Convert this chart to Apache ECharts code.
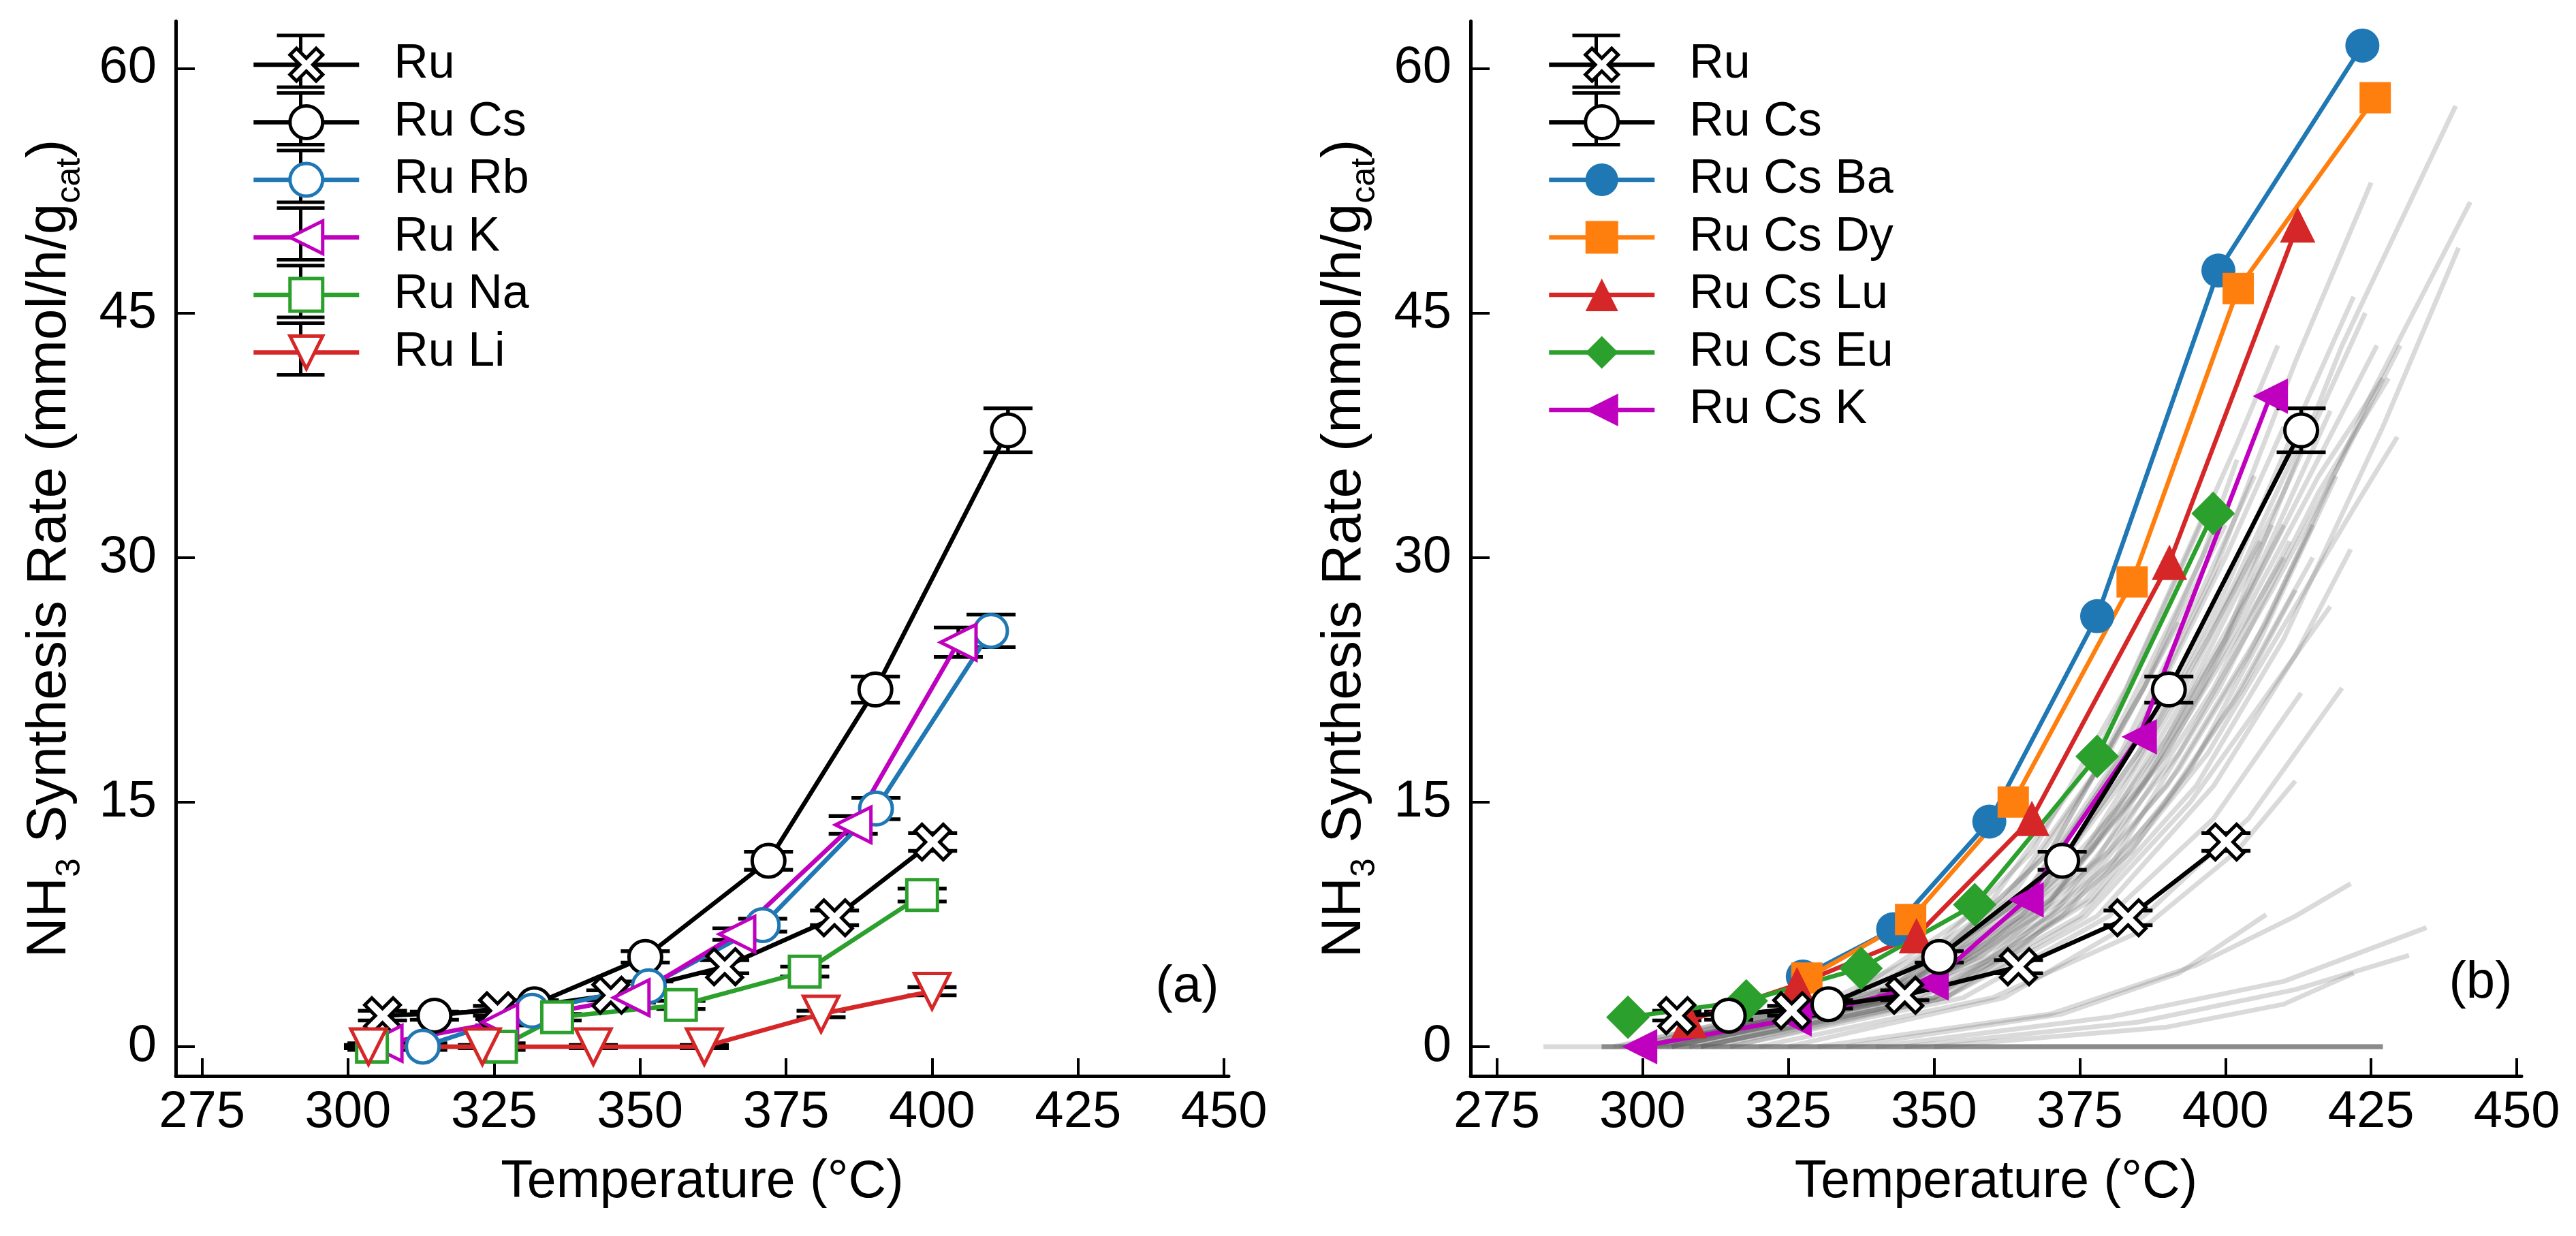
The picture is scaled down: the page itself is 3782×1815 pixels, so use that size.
<!DOCTYPE html>
<html><head><meta charset="utf-8">
<script src="https://cdn.jsdelivr.net/npm/echarts@6/dist/echarts.min.js"></script>
<style>html,body{margin:0;padding:0;background:#fff}#c{width:3782px;height:1815px}</style>
</head><body><div id="c"></div>
<script>
// ---------- tick labels ----------
const xTicks = [275, 300, 325, 350, 375, 400, 425, 450];
const yTicks = [0, 15, 30, 45, 60];

// ---------- panel (a) ----------
const ruT   = [305.9, 325.6, 345.0, 364.5, 383.3, 400.1];
const ruV   = [1.9, 2.2, 3.15, 4.9, 7.9, 12.55];
const ruErr = [0.3, 0.3, 0.3, 0.4, 0.45, 0.55];
const ruCsT   = [314.8, 331.9, 350.9, 372.0, 390.3, 413.0];
const ruCsV   = [1.9, 2.6, 5.5, 11.4, 21.9, 37.8];
const ruCsErr = [0.25, 0.25, 0.35, 0.55, 0.8, 1.35];
const ruRbT   = [312.8, 331.5, 351.5, 371.0, 390.4, 410.1];
const ruRbV   = [0.0, 2.2, 3.7, 7.45, 14.6, 25.5];
const ruRbErr = [0.2, 0.2, 0.3, 0.4, 0.65, 1.0];
const ruKT    = [306.2, 326.0, 348.5, 366.6, 386.5, 404.5];
const ruKV    = [0.2, 1.5, 3.0, 6.9, 13.6, 24.8];
const ruKErr  = [0.2, 0.2, 0.3, 0.35, 0.55, 0.9];
const ruNaT   = [304.1, 326.2, 335.8, 357.0, 378.2, 398.3];
const ruNaV   = [0.0, 0.0, 1.8, 2.55, 4.6, 9.3];
const ruNaErr = [0.2, 0.2, 0.2, 0.25, 0.3, 0.4];
const ruLiT   = [303.5, 323.0, 342.0, 361.0, 381.0, 400.0];
const ruLiV   = [0.0, 0.0, 0.0, 0.0, 2.0, 3.4];
const ruLiErr = [0.1, 0.1, 0.1, 0.1, 0.2, 0.25];

// ---------- panel (b) ----------
const baT = [327.5, 343.0, 359.5, 378.0, 398.8, 423.5];
const baV = [4.3, 7.2, 13.8, 26.4, 47.6, 61.4];
const dyT = [328.2, 346.0, 363.6, 384.0, 402.2, 425.7];
const dyV = [4.2, 7.8, 15.0, 28.5, 46.5, 58.2];
const luT = [308.0, 326.5, 347.0, 366.8, 390.4, 412.4];
const luV = [1.6, 3.8, 6.8, 14.0, 29.7, 50.4];
const euT = [297.5, 317.8, 337.5, 357.0, 378.0, 397.9];
const euV = [1.8, 2.8, 4.8, 8.7, 17.8, 32.7];
const csKT = [299.5, 326.0, 349.5, 365.8, 385.2, 407.7];
const csKV = [0.0, 1.7, 3.9, 9.0, 19.0, 39.9];

// faint grey background curves in panel (b), [T, rate] pairs
const grayLines = [
  [[300,0],[340,3],[365,8],[385,16],[400,25],[420,43],[439.5,57.7]],
  [[305,0],[345,3],[370,8],[390,16],[407,26],[425,40],[442,51.8]],
  [[310,0],[350,3],[375,8],[395,16],[410,25],[427,38],[440,49]],
  [[300,0],[340,3],[365,9],[383,18],[398,29],[412,42],[425,53]],
  [[300,0],[342,3],[367,9],[385,18],[400,28],[412,38],[422,46]],
  [[305,0],[345,3],[372,9],[392,18],[408,28],[420,36],[430,43]],
  [[310,0],[350,3],[377,9],[397,18],[412,27],[422,33],[429.5,37.4]],
  [[300,0],[345,3],[370,9],[390,18],[404,27],[416,35],[427,41]],
  [[295,0],[335,3],[360,9],[378,18],[392,29],[402,37],[409,43]],
  [[310,0],[352,3],[378,8],[398,16],[412,24],[421.5,30.5]],
  [[315,0],[355,3],[380,8],[398,14],[413,21.7]],
  [[320,0],[360,3],[385,7],[402,12],[412,16.3]],
  [[330,0],[370,2],[395,5],[412,8],[421.5,10]],
  [[335,0],[372,2],[392,4.5],[407,8.1]],
  [[340,0],[380,1.8],[410,4],[434.5,7.3]],
  [[345,0],[385,1.5],[412,3.5],[431.5,5.6]],
  [[350,0],[390,1.2],[410,2.6],[422,4.5]],
  [[298,0],[340,3.5],[362,9],[378,17],[392,27],[400,33]],
  [[300,0],[342,3.5],[365,9],[382,18],[396,28],[405,35]],
  [[305,0],[345,3],[368,8],[386,16],[400,25],[410,32]],
  [[300,0],[340,3],[363,9],[380,18],[392,26]],
  [[310,0],[348,3],[372,8],[390,15],[403,22],[412,28]],
  [[305,0],[345,3],[370,9],[388,17],[400,24],[410,30]],
  [[315,0],[352,3],[376,8],[394,15],[408,22],[418,27]],
  [[300,0],[343,3],[368,10],[386,20],[400,30],[410,38]],
  [[310,0],[350,3],[374,9],[392,17],[404,24],[415,32]],
  [[325,0],[362,3],[386,8],[404,14],[420,22]],
  [[305,0],[346,4],[370,12],[386,22],[396,30],[402,36]],
  [[302,0],[344,3.5],[369,10],[387,19],[401,28],[414,38]],
  [[308,0],[348,3.5],[372,10],[390,19],[404,28],[418,39]],
  [[303,0],[343,3],[367,9],[384,17],[397,25],[406,31]],
  [[312,0],[352,3],[376,9],[394,17],[406,25],[419,35]],
  [[300,0],[338,3],[355,5.5],[375,11.5],[393,22],[410,34],[424,45]],
  [[302,0],[341,3],[358,5.5],[378,11.5],[396,22],[413,34],[426,43]],
  [[305,0],[344,3],[361,5.5],[381,11.5],[399,22],[416,34],[428,41]],
  [[300,0],[340,3],[357,5.5],[377,12],[394,22],[408,32]],
  [[304,0],[343,3],[360,5.6],[380,12],[398,22],[411,31]],
  [[308,0],[347,3],[364,5.8],[384,12],[401,21],[415,30]],
  [[298,0],[335,3],[352,6],[370,12],[386,22],[400,32]],
  [[296,0],[333,3],[350,6],[367,12],[383,22],[398,34]],
  [[283,0],[427,0]],
  [[293,0],[427,0]],
  [[293,0],[427,0]],
  [[293,0],[427,0]],
  [[293,0],[427,0]]
];

// ---------- styling ----------
const FONT = '"Liberation Sans", Arial, sans-serif';
const LW = 6.5;
const BW = 5;
const XSYM = 'path://M2,0L5,3L8,0L10,2L7,5L10,8L8,10L5,7L2,10L0,8L3,5L0,2Z';
const C = {blue:'#1f77b4', orange:'#ff7f0e', green:'#2ca02c', red:'#d62728', mag:'#bf00bf', k:'#000'};

const G = [
  {left: 258, top: 31, width: 1546, height: 1549},
  {left: 2159, top: 31, width: 1543, height: 1549}
];
// legend rows: first row centre at 90 px, pitch 84.5 px; text box (70 px) sets the row height
const LEG = {top: 55, itemH: 60, textH: 70, pitch: 84.5, itemW: 155, lefts: [364, 2266]};

function pts(t, v) { return t.map((x, i) => [x, v[i]]); }

function lineS(name, gi, t, v, color, symbol, size, rot, hollow, edge) {
  return {
    type: 'line', name, xAxisIndex: gi, yAxisIndex: gi, data: pts(t, v),
    symbol, symbolSize: size, symbolRotate: rot, showSymbol: true,
    lineStyle: {color, width: LW},
    itemStyle: {color: hollow ? '#fff' : color, borderColor: edge || color, borderWidth: hollow ? BW : 0},
    emphasis: {disabled: true}, silent: true, animation: false, z: 3
  };
}

function errS(gi, t, v, e) {
  return {
    type: 'custom', xAxisIndex: gi, yAxisIndex: gi, silent: true, animation: false, z: 3,
    data: t.map((x, i) => [x, v[i], e[i]]),
    encode: {x: 0, y: 1},
    renderItem(params, api) {
      const x = api.value(0), y = api.value(1), er = api.value(2);
      const hi = api.coord([x, y + er]), lo = api.coord([x, y - er]);
      const hw = 36;
      const st = {stroke: '#000', lineWidth: 5.5};
      return {type: 'group', children: [
        {type: 'line', shape: {x1: hi[0], y1: hi[1], x2: lo[0], y2: lo[1]}, style: st},
        {type: 'line', shape: {x1: hi[0] - hw, y1: hi[1], x2: hi[0] + hw, y2: hi[1]}, style: st},
        {type: 'line', shape: {x1: lo[0] - hw, y1: lo[1], x2: lo[0] + hw, y2: lo[1]}, style: st}
      ]};
    }
  };
}

function xAx(gi) {
  return {
    type: 'value', gridIndex: gi, min: 270.5, max: 450.8,
    name: 'Temperature (°C)', nameLocation: 'middle', nameGap: 118,
    nameTextStyle: {fontFamily: FONT, fontSize: 77, color: '#000'},
    axisLine: {show: true, onZero: false, lineStyle: {color: '#000', width: 5}},
    axisTick: {show: true, inside: true, length: 26, lineStyle: {color: '#000', width: 4}, customValues: xTicks},
    axisLabel: {fontFamily: FONT, fontSize: 76, color: '#000', margin: 16, customValues: xTicks},
    splitLine: {show: false}
  };
}
function yAx(gi) {
  return {
    type: 'value', gridIndex: gi, min: -1.8, max: 62.9,
    name: '{m|NH}{s|3}{m| Synthesis Rate (mmol/h/g}{s|cat}{m|)}',
    nameLocation: 'middle', nameGap: 140, nameRotate: 90,
    nameTextStyle: {rich: {
      m: {fontFamily: FONT, fontSize: 82, color: '#000', lineHeight: 90},
      s: {fontFamily: FONT, fontSize: 50, color: '#000', lineHeight: 50, padding: [60, 0, 0, 0]}
    }},
    axisLine: {show: true, onZero: false, lineStyle: {color: '#000', width: 5}},
    axisTick: {show: true, inside: true, length: 28, lineStyle: {color: '#000', width: 4}, customValues: yTicks},
    axisLabel: {fontFamily: FONT, fontSize: 76, color: '#000', margin: 28, customValues: yTicks},
    splitLine: {show: false}
  };
}

const series = [];
// panel (a)
series.push(errS(0, ruT, ruV, ruErr));
series.push(lineS('Ru', 0, ruT, ruV, C.k, XSYM, 52, 0, true, C.k));
series.push(errS(0, ruCsT, ruCsV, ruCsErr));
series.push(lineS('Ru Cs', 0, ruCsT, ruCsV, C.k, 'circle', 48, 0, true, C.k));
series.push(errS(0, ruRbT, ruRbV, ruRbErr));
series.push(lineS('Ru Rb', 0, ruRbT, ruRbV, C.blue, 'circle', 48, 0, true));
series.push(errS(0, ruKT, ruKV, ruKErr));
series.push(lineS('Ru K', 0, ruKT, ruKV, C.mag, 'triangle', 52, 90, true));
series.push(errS(0, ruNaT, ruNaV, ruNaErr));
series.push(lineS('Ru Na', 0, ruNaT, ruNaV, C.green, 'rect', 45, 0, true));
series.push(errS(0, ruLiT, ruLiV, ruLiErr));
series.push(lineS('Ru Li', 0, ruLiT, ruLiV, C.red, 'triangle', 52, 180, true));
// panel (b)
grayLines.forEach((g, i) => series.push({
  type: 'line', name: 'bg' + i, xAxisIndex: 1, yAxisIndex: 1, data: g, showSymbol: false, symbol: 'none',
  lineStyle: {color: 'rgba(100,100,100,0.24)', width: 7}, silent: true, animation: false, z: 2
}));
series.push(lineS('Ru Cs Ba', 1, baT, baV, C.blue, 'circle', 50, 0, false));
series.push(lineS('Ru Cs Dy', 1, dyT, dyV, C.orange, 'rect', 46, 0, false));
series.push(lineS('Ru Cs Lu', 1, luT, luV, C.red, 'triangle', 52, 0, false));
series.push(lineS('Ru Cs Eu', 1, euT, euV, C.green, 'diamond', [64, 64], 0, false));
series.push(lineS('Ru Cs K', 1, csKT, csKV, C.mag, 'triangle', 52, 90, false));
series.push(errS(1, ruT, ruV, ruErr));
series.push(lineS('Ru', 1, ruT, ruV, C.k, XSYM, 52, 0, true, C.k));
series.push(errS(1, ruCsT, ruCsV, ruCsErr));
series.push(lineS('Ru Cs', 1, ruCsT, ruCsV, C.k, 'circle', 48, 0, true, C.k));

const legA = ['Ru', 'Ru Cs', 'Ru Rb', 'Ru K', 'Ru Na', 'Ru Li'];
const legB = ['Ru', 'Ru Cs', 'Ru Cs Ba', 'Ru Cs Dy', 'Ru Cs Lu', 'Ru Cs Eu', 'Ru Cs K'];
const hollowNames = ['Ru', 'Ru Cs', 'Ru Rb', 'Ru K', 'Ru Na', 'Ru Li'];

function legend(gi, names) {
  return {
    show: true, orient: 'vertical', left: LEG.lefts[gi], top: LEG.top,
    itemWidth: LEG.itemW, itemHeight: LEG.itemH, itemGap: LEG.pitch - LEG.textH,
    selectedMode: false, inactiveColor: '#000',
    textStyle: {fontFamily: FONT, fontSize: 70, lineHeight: LEG.textH, color: '#000', padding: [0, 0, 0, 46]},
    lineStyle: {width: LW},
    data: names.map(n => ({name: n, itemStyle: {borderWidth: hollowNames.includes(n) ? BW : 0}}))
  };
}

// black error-bar glyphs on the legend handles (Ru-family entries)
const graphics = [];
function legErr(gi, count) {
  const cx = LEG.lefts[gi] + LEG.itemW / 2;
  for (let i = 0; i < count; i++) {
    const cy = 90 + i * LEG.pitch;
    const st = {stroke: '#000', lineWidth: 5};
    graphics.push({type: 'line', z: 3, silent: true, shape: {x1: cx, y1: cy - 38, x2: cx, y2: cy + 38}, style: st});
    graphics.push({type: 'line', z: 3, silent: true, shape: {x1: cx - 35, y1: cy - 38, x2: cx + 35, y2: cy - 38}, style: st});
    graphics.push({type: 'line', z: 3, silent: true, shape: {x1: cx - 35, y1: cy + 38, x2: cx + 35, y2: cy + 38}, style: st});
  }
}
legErr(0, 6);
legErr(1, 2);
graphics.push({type: 'text', x: 1743, y: 1450, style: {text: '(a)', fontFamily: FONT, fontSize: 76, fill: '#000', align: 'center', verticalAlign: 'middle', textAlign: 'center', textVerticalAlign: 'middle'}});
graphics.push({type: 'text', x: 3642, y: 1444, style: {text: '(b)', fontFamily: FONT, fontSize: 76, fill: '#000', align: 'center', verticalAlign: 'middle', textAlign: 'center', textVerticalAlign: 'middle'}});

const chart = echarts.init(document.getElementById('c'), null, {renderer: 'canvas'});
chart.setOption({
  backgroundColor: '#fff',
  animation: false,
  grid: G,
  xAxis: [xAx(0), xAx(1)],
  yAxis: [yAx(0), yAx(1)],
  legend: [legend(0, legA), legend(1, legB)],
  graphic: graphics,
  series
});
</script></body></html>
